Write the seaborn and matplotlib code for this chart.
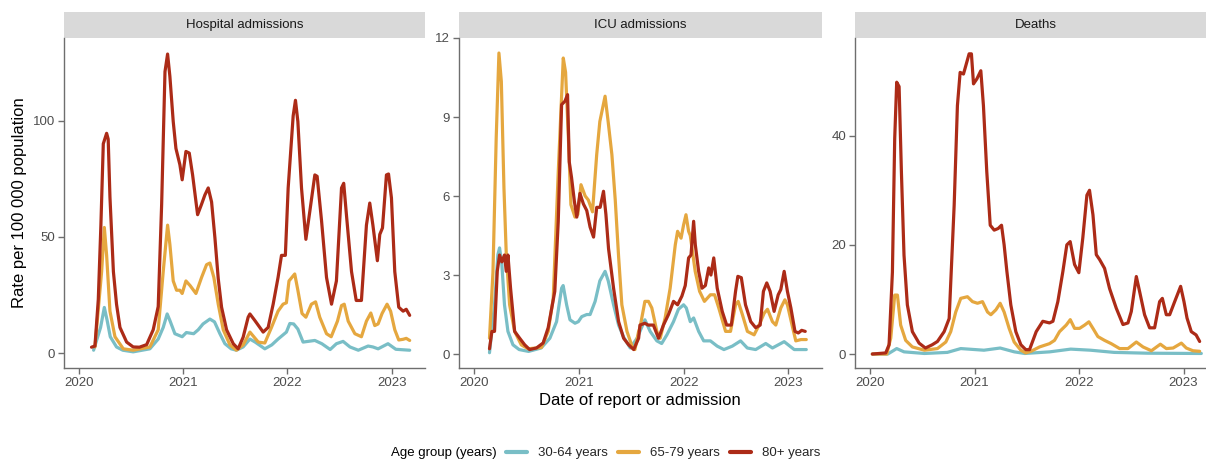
import pandas as pd
import matplotlib
matplotlib.use('Agg')
import matplotlib.pyplot as plt
from matplotlib.lines import Line2D
from matplotlib.patches import Rectangle
import seaborn as sns

# Data (decimal year, rate per 100 000)
hosp_3064 = [(2020.14, 1.2), (2020.207, 11), (2020.243, 19.6), (2020.27, 14), (2020.3, 7), (2020.36, 2.6),
             (2020.42, 1.2), (2020.52, 0.5), (2020.68, 1.8), (2020.76, 6), (2020.808, 11), (2020.846, 16.8),
             (2020.872, 14), (2020.92, 8.3), (2020.99, 7), (2021.03, 8.8), (2021.1, 8.3), (2021.144, 10),
             (2021.19, 12.5), (2021.256, 14.6), (2021.3, 13.4), (2021.352, 8.3), (2021.4, 4), (2021.46, 1.8),
             (2021.51, 1.2), (2021.575, 2.6), (2021.64, 6), (2021.69, 4.7), (2021.783, 1.8), (2021.85, 3.5),
             (2021.91, 6), (2021.99, 9), (2022.023, 12.7), (2022.06, 12.5), (2022.1, 10.3), (2022.15, 4.7),
             (2022.263, 5.4), (2022.33, 4), (2022.41, 1.5), (2022.47, 4), (2022.534, 5), (2022.6, 2.6),
             (2022.68, 1.2), (2022.774, 3), (2022.82, 2.6), (2022.87, 1.8), (2022.965, 4), (2023.04, 1.6),
             (2023.173, 1.2)]
hosp_6579 = [(2020.153, 2.6), (2020.217, 35), (2020.243, 54), (2020.265, 42), (2020.297, 18), (2020.345, 7),
             (2020.425, 1.8), (2020.52, 1.2), (2020.68, 2.6), (2020.76, 10), (2020.808, 35), (2020.85, 55),
             (2020.872, 46.7), (2020.904, 31), (2020.936, 27), (2020.968, 27), (2020.99, 25.6), (2021.026, 31),
             (2021.066, 29), (2021.122, 25.6), (2021.176, 32.5), (2021.224, 38), (2021.256, 38.7), (2021.294, 32.5),
             (2021.336, 21), (2021.384, 10), (2021.448, 3.5), (2021.51, 1.2), (2021.575, 3.5), (2021.64, 9),
             (2021.72, 4.7), (2021.783, 4.3), (2021.847, 11), (2021.91, 18), (2021.958, 21), (2021.99, 21.6),
             (2022.015, 31), (2022.07, 34), (2022.1, 27), (2022.14, 17), (2022.177, 15.4), (2022.23, 21),
             (2022.27, 22), (2022.31, 15.4), (2022.375, 8.3), (2022.42, 7), (2022.48, 13.7), (2022.519, 20.4),
             (2022.545, 21), (2022.583, 13.7), (2022.647, 8.3), (2022.71, 7), (2022.758, 13.7), (2022.8, 17.2),
             (2022.838, 11.8), (2022.87, 12.5), (2022.908, 17), (2022.956, 21), (2022.99, 18), (2023.03, 10),
             (2023.068, 5.6), (2023.11, 5.9), (2023.14, 6.3), (2023.173, 5.4)]
hosp_80 = [(2020.12, 2.5), (2020.153, 3), (2020.185, 23), (2020.21, 55), (2020.233, 90), (2020.265, 94.5),
           (2020.28, 92), (2020.297, 67), (2020.33, 35), (2020.36, 21), (2020.393, 11), (2020.457, 4.7),
           (2020.52, 2.6), (2020.58, 2.5), (2020.649, 3.6), (2020.712, 10), (2020.76, 20), (2020.793, 64),
           (2020.825, 121), (2020.85, 128.6), (2020.872, 119), (2020.904, 99.6), (2020.93, 88), (2020.968, 81),
           (2020.99, 74.5), (2021.026, 86.7), (2021.058, 86), (2021.09, 76.6), (2021.138, 59.5), (2021.176, 64),
           (2021.208, 68), (2021.24, 71), (2021.272, 65), (2021.304, 49.6), (2021.336, 32), (2021.368, 19.7),
           (2021.416, 10), (2021.48, 4), (2021.527, 1.8), (2021.575, 6.8), (2021.623, 15.4), (2021.64, 16.8),
           (2021.687, 14), (2021.767, 9), (2021.815, 11), (2021.863, 21), (2021.91, 32.5), (2021.943, 42),
           (2021.98, 42), (2022.007, 71), (2022.055, 102), (2022.077, 108.7), (2022.1, 99.6), (2022.135, 71),
           (2022.177, 48.9), (2022.215, 61), (2022.263, 76.6), (2022.285, 76), (2022.327, 57), (2022.375, 32.5),
           (2022.423, 21), (2022.47, 31), (2022.519, 71), (2022.54, 73), (2022.567, 59), (2022.615, 35),
           (2022.66, 22.6), (2022.71, 22.6), (2022.758, 55), (2022.79, 64.5), (2022.82, 55), (2022.863, 39.7),
           (2022.886, 51), (2022.912, 53.8), (2022.95, 76.6), (2022.97, 77), (2022.998, 66.7), (2023.03, 35),
           (2023.068, 19.7), (2023.11, 18), (2023.14, 18.8), (2023.173, 16.2)]

icu_3064 = [(2020.147, 0.05), (2020.195, 1.87), (2020.227, 3.77), (2020.243, 4.03), (2020.265, 3.4),
            (2020.29, 1.87), (2020.323, 0.86), (2020.371, 0.35), (2020.43, 0.17), (2020.52, 0.1), (2020.64, 0.23),
            (2020.723, 0.6), (2020.787, 1.23), (2020.835, 2.5), (2020.85, 2.6), (2020.883, 1.87), (2020.915, 1.3),
            (2020.963, 1.17), (2020.995, 1.23), (2021.027, 1.42), (2021.075, 1.5), (2021.107, 1.5),
            (2021.155, 2.0), (2021.2, 2.78), (2021.25, 3.14), (2021.28, 2.78), (2021.331, 1.87), (2021.379, 1.1),
            (2021.427, 0.64), (2021.49, 0.23), (2021.555, 0.6), (2021.63, 1.3), (2021.68, 0.86), (2021.744, 0.5),
            (2021.79, 0.4), (2021.84, 0.73), (2021.903, 1.23), (2021.95, 1.7), (2021.999, 1.87), (2022.025, 1.75),
            (2022.063, 1.23), (2022.095, 1.37), (2022.143, 0.86), (2022.191, 0.5), (2022.255, 0.5), (2022.32, 0.3),
            (2022.384, 0.17), (2022.464, 0.3), (2022.543, 0.5), (2022.607, 0.23), (2022.687, 0.17),
            (2022.783, 0.4), (2022.847, 0.23), (2022.959, 0.47), (2023.055, 0.17), (2023.17, 0.17)]
icu_6579 = [(2020.147, 0.6), (2020.18, 3.1), (2020.211, 8.2), (2020.237, 11.43), (2020.26, 10.35),
            (2020.285, 6.3), (2020.307, 3.8), (2020.339, 1.87), (2020.387, 0.86), (2020.45, 0.35), (2020.515, 0.2),
            (2020.643, 0.25), (2020.707, 0.86), (2020.755, 2.1), (2020.803, 6.9), (2020.851, 11.24),
            (2020.873, 10.7), (2020.9, 8.2), (2020.924, 5.67), (2020.963, 5.2), (2020.99, 5.3), (2021.02, 6.43),
            (2021.06, 6.0), (2021.09, 5.85), (2021.13, 5.4), (2021.17, 7.57), (2021.2, 8.83), (2021.25, 9.79),
            (2021.28, 8.8), (2021.315, 7.57), (2021.347, 5.85), (2021.379, 3.7), (2021.41, 1.87), (2021.459, 0.86),
            (2021.507, 0.3), (2021.535, 0.17), (2021.57, 0.86), (2021.583, 1.0), (2021.63, 2.0), (2021.664, 2.0),
            (2021.696, 1.75), (2021.744, 0.86), (2021.776, 0.6), (2021.823, 1.37), (2021.871, 2.5), (2021.92, 4.15),
            (2021.942, 4.66), (2021.975, 4.4), (2021.999, 4.9), (2022.022, 5.29), (2022.047, 4.66),
            (2022.063, 4.5), (2022.11, 3.14), (2022.152, 2.38), (2022.198, 2.0), (2022.255, 2.25),
            (2022.295, 2.25), (2022.335, 1.75), (2022.4, 0.86), (2022.447, 0.86), (2022.495, 1.87),
            (2022.52, 2.0), (2022.56, 1.5), (2022.608, 0.86), (2022.672, 0.73), (2022.72, 1.1), (2022.768, 1.55),
            (2022.8, 1.7), (2022.847, 1.23), (2022.879, 1.1), (2022.927, 1.75), (2022.966, 2.06), (2022.99, 1.87),
            (2023.04, 1.0), (2023.07, 0.5), (2023.12, 0.55), (2023.17, 0.55)]
icu_80 = [(2020.147, 0.2), (2020.17, 0.86), (2020.195, 0.86), (2020.221, 3.14), (2020.243, 3.76), (2020.265, 3.5),
          (2020.29, 3.76), (2020.307, 3.14), (2020.323, 3.76), (2020.348, 2.5), (2020.387, 0.86), (2020.435, 0.6),
          (2020.483, 0.35), (2020.53, 0.17), (2020.595, 0.23), (2020.659, 0.42), (2020.707, 1.0), (2020.77, 2.38),
          (2020.803, 5.03), (2020.835, 9.47), (2020.867, 9.6), (2020.892, 9.85), (2020.908, 7.3), (2020.93, 6.7),
          (2020.957, 5.8), (2020.98, 5.2), (2021.01, 6.1), (2021.043, 5.7), (2021.075, 5.45), (2021.107, 4.82),
          (2021.14, 4.44), (2021.17, 5.57), (2021.203, 5.57), (2021.235, 6.18), (2021.258, 5.3), (2021.283, 4.0),
          (2021.331, 2.5), (2021.379, 1.23), (2021.427, 0.6), (2021.475, 0.35), (2021.523, 0.17), (2021.57, 0.6),
          (2021.583, 1.1), (2021.63, 1.17), (2021.66, 1.1), (2021.711, 1.1), (2021.76, 0.6), (2021.807, 1.1),
          (2021.855, 1.5), (2021.903, 2.0), (2021.942, 1.87), (2021.983, 2.2), (2022.015, 2.6), (2022.047, 3.65),
          (2022.07, 3.76), (2022.095, 5.04), (2022.111, 4.15), (2022.143, 3.14), (2022.175, 2.5),
          (2022.207, 2.6), (2022.239, 3.27), (2022.26, 3.0), (2022.287, 3.65), (2022.32, 2.5), (2022.368, 1.62),
          (2022.41, 1.1), (2022.455, 1.1), (2022.495, 2.38), (2022.517, 2.95), (2022.55, 2.9), (2022.59, 1.87),
          (2022.64, 1.23), (2022.687, 1.0), (2022.73, 1.1), (2022.761, 2.38), (2022.793, 2.7), (2022.825, 2.38),
          (2022.863, 1.62), (2022.902, 2.25), (2022.927, 2.45), (2022.959, 3.14), (2022.99, 2.38),
          (2023.023, 1.75), (2023.062, 0.86), (2023.094, 0.8), (2023.126, 0.9), (2023.16, 0.86)]

death_3064 = [(2020.022, 0), (2020.17, 0), (2020.255, 1.0), (2020.325, 0.4), (2020.52, 0.1), (2020.74, 0.3),
              (2020.868, 1.0), (2021.09, 0.7), (2021.245, 1.1), (2021.38, 0.4), (2021.48, 0.1), (2021.72, 0.4),
              (2021.92, 0.9), (2022.11, 0.7), (2022.335, 0.3), (2022.655, 0.15), (2023.17, 0.1)]
death_6579 = [(2020.022, 0), (2020.16, 0), (2020.198, 2.9), (2020.236, 10.8), (2020.262, 10.8), (2020.293, 5.3),
              (2020.341, 2.5), (2020.405, 1.3), (2020.52, 0.7), (2020.645, 1.0), (2020.725, 2.2), (2020.772, 4.1),
              (2020.82, 7.7), (2020.868, 10.2), (2020.932, 10.5), (2020.98, 9.6), (2021.028, 9.3),
              (2021.076, 9.6), (2021.124, 7.7), (2021.156, 7.2), (2021.204, 8.1), (2021.245, 9.3), (2021.283, 7.7),
              (2021.331, 4.7), (2021.379, 2.2), (2021.443, 0.7), (2021.49, 0.2), (2021.54, 0.5), (2021.622, 1.3),
              (2021.717, 1.9), (2021.765, 2.5), (2021.813, 4.1), (2021.877, 5.3), (2021.916, 6.3), (2021.957, 4.7),
              (2022.005, 4.7), (2022.053, 5.3), (2022.094, 5.9), (2022.133, 4.7), (2022.18, 3.2), (2022.244, 2.5),
              (2022.308, 1.9), (2022.388, 1.0), (2022.468, 1.0), (2022.548, 2.2), (2022.612, 1.3),
              (2022.692, 0.6), (2022.778, 1.8), (2022.835, 1.0), (2022.9, 1.1), (2022.979, 2.0), (2023.026, 1.1),
              (2023.09, 0.6), (2023.154, 0.5)]
death_80 = [(2020.022, 0), (2020.15, 0.2), (2020.182, 1.7), (2020.214, 15), (2020.236, 39.5), (2020.255, 49.8),
            (2020.278, 49), (2020.3, 33.4), (2020.325, 18.1), (2020.357, 9), (2020.405, 4.1), (2020.469, 2.0),
            (2020.53, 1.1), (2020.595, 1.7), (2020.645, 2.3), (2020.709, 4.1), (2020.757, 6.5), (2020.805, 27.3),
            (2020.836, 45.5), (2020.862, 51.6), (2020.894, 51.3), (2020.916, 52.8), (2020.948, 55),
            (2020.97, 55), (2020.99, 49.5), (2021.022, 50.4), (2021.06, 51.9), (2021.085, 45.5), (2021.117, 33.4),
            (2021.15, 23.6), (2021.188, 22.7), (2021.226, 23), (2021.258, 23.6), (2021.283, 20), (2021.309, 15.2),
            (2021.347, 9), (2021.395, 4.1), (2021.443, 1.7), (2021.49, 0.8), (2021.526, 0.8), (2021.59, 4.1),
            (2021.653, 6.0), (2021.717, 5.7), (2021.75, 6.0), (2021.797, 9.6), (2021.845, 15.1), (2021.883, 20),
            (2021.915, 20.6), (2021.957, 16.4), (2021.998, 14.9), (2022.036, 21.3), (2022.075, 29.1),
            (2022.1, 30), (2022.133, 25.5), (2022.165, 18.2), (2022.197, 17.3), (2022.244, 15.7), (2022.292, 12),
            (2022.356, 8.4), (2022.42, 5.4), (2022.468, 5.7), (2022.5, 7.8), (2022.548, 14.2), (2022.58, 11.4),
            (2022.627, 7.2), (2022.675, 4.8), (2022.723, 4.8), (2022.771, 9.6), (2022.797, 10.2),
            (2022.835, 7.2), (2022.867, 7.2), (2022.915, 9.6), (2022.972, 12.4), (2023.004, 9.6),
            (2023.033, 6.6), (2023.074, 4.1), (2023.12, 3.5), (2023.154, 2.3)]

panels = ['Hospital admissions', 'ICU admissions', 'Deaths']
groups = ['30-64 years', '65-79 years', '80+ years']
colors = ['#79BEC6', '#E5A73F', '#AC2B17']
series = {
    'Hospital admissions': [hosp_3064, hosp_6579, hosp_80],
    'ICU admissions': [icu_3064, icu_6579, icu_80],
    'Deaths': [death_3064, death_6579, death_80],
}
y_ticks = {'Hospital admissions': [0, 50, 100], 'ICU admissions': [0, 3, 6, 9, 12], 'Deaths': [0, 20, 40]}
y_lims = {'Hospital admissions': (-6.45, 135.5), 'ICU admissions': (-0.53, 12.0), 'Deaths': (-2.56, 57.9)}
year_ticks = [2020, 2021, 2022, 2023]


def to_date(t):
    return pd.Timestamp('2020-01-01') + pd.to_timedelta((t - 2020) * 365.25, unit='D')


rows = []
for panel in panels:
    for grp, pts in zip(groups, series[panel]):
        for t, v in pts:
            rows.append({'panel': panel, 'group': grp, 'date': to_date(t), 'rate': v})
df = pd.DataFrame(rows)

sns.set_theme(style='ticks')
plt.rcParams['font.family'] = ['Liberation Sans', 'DejaVu Sans']

W, H = 1206, 459
fig = plt.figure(figsize=(W / 100, H / 100), dpi=100)
lefts = [64, 459, 855]
widths = [361, 363, 362]
top, bottom = 38, 368
grey = '#4D4D4D'

for panel, left, width in zip(panels, lefts, widths):
    ax = fig.add_axes([left / W, (H - bottom) / H, width / W, (bottom - top) / H])
    sub = df[df['panel'] == panel]
    sns.lineplot(data=sub, x='date', y='rate', hue='group', hue_order=groups, palette=colors,
                 linewidth=2.3, estimator=None, sort=True, legend=False, ax=ax)
    ax.set_xlim(to_date(2019.856), to_date(2023.32))
    ax.set_ylim(*y_lims[panel])
    ax.set_xticks([to_date(y) for y in year_ticks])
    ax.set_xticklabels([str(y) for y in year_ticks])
    ax.set_yticks(y_ticks[panel])
    ax.set_xlabel('')
    ax.set_ylabel('')
    for s in ['top', 'right']:
        ax.spines[s].set_visible(False)
    for s in ['left', 'bottom']:
        ax.spines[s].set_color('#6E6E6E')
        ax.spines[s].set_linewidth(1.0)
    ax.tick_params(axis='both', colors='#6E6E6E', labelcolor=grey, labelsize=9.5,
                   length=4, width=1.0, pad=2.5)
    # facet strip
    sh = 26 / (bottom - top)
    ax.add_patch(Rectangle((0, 1), 1, sh, transform=ax.transAxes, clip_on=False,
                           facecolor='#D9D9D9', edgecolor='none'))
    ax.text(0.5, 1 + sh / 2, panel, transform=ax.transAxes, ha='center', va='center',
            fontsize=9.5, color='#1A1A1A')

fig.text(20 / W, 1 - 203 / H, 'Rate per 100 000 population', rotation=90,
         ha='center', va='center', fontsize=12, color='black')
fig.text(640 / W, 1 - 401 / H, 'Date of report or admission', ha='center', va='center',
         fontsize=12, color='black')

# legend at the bottom
fig.text(391 / W, 1 - 453 / H, 'Age group (years)', ha='left', va='center', fontsize=9.5, color='black')
handles = [Line2D([], [], color=c, linewidth=3) for c in colors]
fig.legend(handles, groups, loc='center left', bbox_to_anchor=(506 / W, 1 - 453 / H), ncol=3,
           frameon=False, fontsize=9.5, handlelength=1.6, handletextpad=0.8, columnspacing=0.8,
           borderpad=0, borderaxespad=0)

fig.savefig('out.png', dpi=100)
